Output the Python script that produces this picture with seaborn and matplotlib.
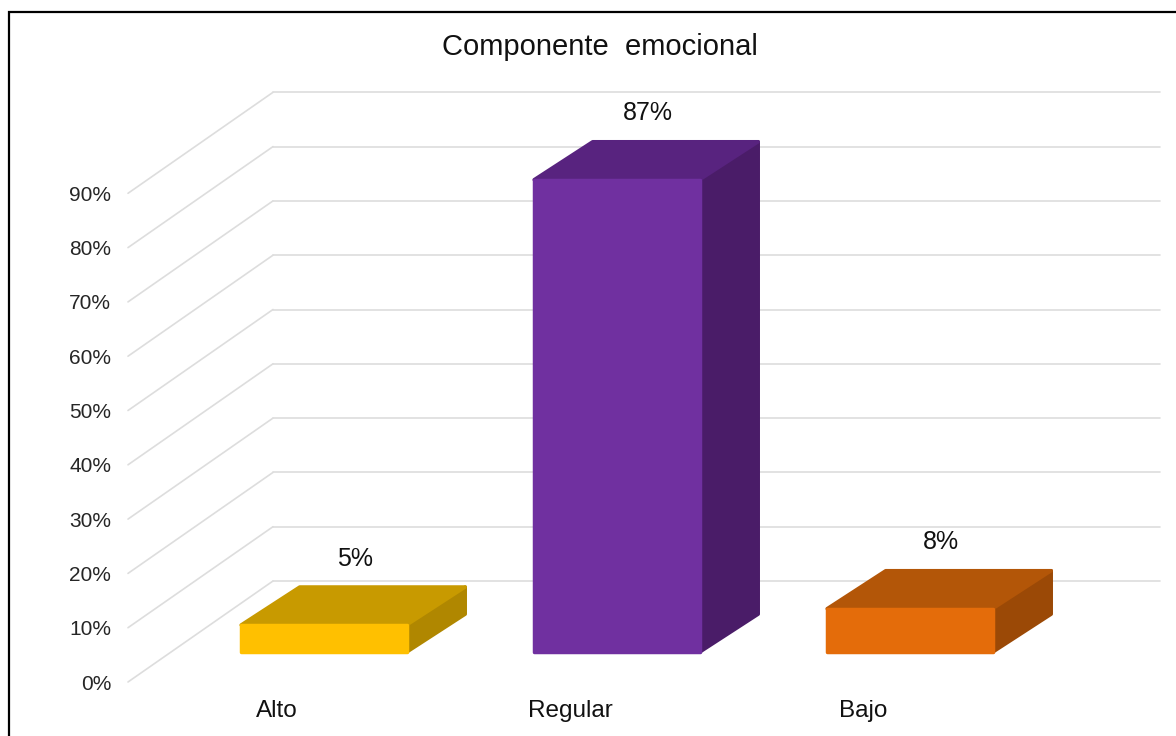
import matplotlib
matplotlib.use("Agg")
import matplotlib.pyplot as plt
import seaborn as sns
from matplotlib.patches import Polygon, Rectangle

# ---- data ----
categories = ["Alto", "Regular", "Bajo"]
values = [5, 87, 8]
value_labels = ["5%", "87%", "8%"]
yticks = [0, 10, 20, 30, 40, 50, 60, 70, 80, 90]
ytick_labels = [f"{t}%" for t in yticks]
title = "Componente  emocional"

front_colors = ["#FFC000", "#7030A0", "#E46C0A"]
top_colors = ["#C89A00", "#58237F", "#B35608"]
side_colors = ["#B08700", "#4A1C68", "#9B4906"]

sns.set_theme(style="white")
plt.rcParams["font.family"] = ["Liberation Sans", "DejaVu Sans"]

W, H = 1176, 736
fig = plt.figure(figsize=(W / 100, H / 100), dpi=100)
fig.patch.set_facecolor("white")

# axes: left edge at front-left plane (x=128px), bottom at 0% (y=682px)
px_left, px_right, px_top, px_bottom = 128, 1170, 12, 682
ax = fig.add_axes([px_left / W, 1 - px_bottom / H,
                   (px_right - px_left) / W, (px_bottom - px_top) / H])

x0_px, cat_px, pct_px = 277.0, 293.0, 5.43
xlim = ((px_left - x0_px) / cat_px, (px_right - x0_px) / cat_px)
ylim = (0, (px_bottom - px_top) / pct_px)

# wall depth (oblique projection)
wall_dx = 145 / cat_px
wall_dy = 101 / pct_px
# bar placement inside depth
bar_dx0 = 0.16
bar_dy0 = 5.5
bar_ddx = 0.2
bar_ddy = 7.0

grid_c = "#DDDDDD"
front_left = xlim[0]
back_right = (1160 - x0_px) / cat_px
for t in yticks:
    ax.plot([front_left, front_left + wall_dx], [t, t + wall_dy], color=grid_c,
            lw=1.2, zorder=1, clip_on=False)
    ax.plot([front_left + wall_dx, back_right], [t + wall_dy, t + wall_dy],
            color=grid_c, lw=1.2, zorder=1, clip_on=False)

sns.barplot(x=categories, y=values, hue=categories, palette=front_colors,
            saturation=1, width=0.565, legend=False, ax=ax, linewidth=0,
            zorder=3)

patches = list(ax.patches)
for i, p in enumerate(patches):
    p.set_x(p.get_x() + bar_dx0)
    p.set_y(p.get_y() + bar_dy0)
    fc = p.get_facecolor()
    p.set_edgecolor(fc)
    p.set_linewidth(2.5)
    p.set_joinstyle("round")
    xl, w = p.get_x(), p.get_width()
    yb, h = p.get_y(), p.get_height()
    xr, yt = xl + w, yb + h
    top = Polygon([(xl, yt), (xr, yt), (xr + bar_ddx, yt + bar_ddy),
                   (xl + bar_ddx, yt + bar_ddy)], closed=True,
                  facecolor=top_colors[i], edgecolor=top_colors[i], lw=2.5,
                  joinstyle="round", zorder=2.9)
    side = Polygon([(xr, yb), (xr, yt), (xr + bar_ddx, yt + bar_ddy),
                    (xr + bar_ddx, yb + bar_ddy)], closed=True,
                   facecolor=side_colors[i], edgecolor=side_colors[i], lw=2.5,
                   joinstyle="round", zorder=2.8)
    ax.add_patch(side)
    ax.add_patch(top)
    cx = xl + w / 2 + 0.105
    ax.text(cx, yt + 12.2, value_labels[i], ha="center", va="center",
            fontsize=18, color="#111111", zorder=5)

ax.set_xlim(*xlim)
ax.set_ylim(*ylim)
ax.set_yticks(yticks)
ax.set_yticklabels(ytick_labels, fontsize=15, color="#262626")
ax.set_xticks(range(len(categories)))
ax.set_xticklabels(categories, fontsize=17.5, color="#111111")
ax.tick_params(axis="y", length=0, pad=12)
ax.tick_params(axis="x", length=0, pad=13)
ax.set_xlabel("")
ax.set_ylabel("")
for s in ax.spines.values():
    s.set_visible(False)
ax.set_facecolor("none")

fig.text(600 / W, 1 - 47 / H, title, ha="center", va="center", fontsize=21,
         color="#111111")

# outer frame (left and top edges visible)
fig.patches.append(Rectangle((9 / W, -0.2), 1.2, 1.2 - 12 / H,
                             transform=fig.transFigure, fill=False,
                             edgecolor="black", lw=1.6, zorder=10))

fig.savefig("out.png", dpi=100, facecolor="white")
